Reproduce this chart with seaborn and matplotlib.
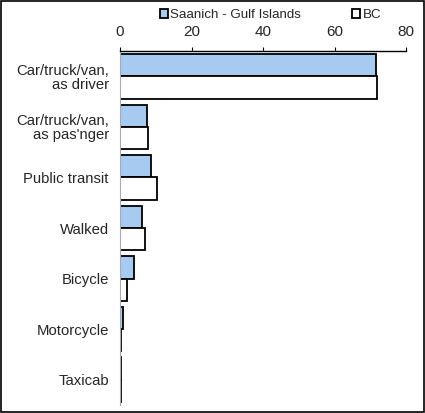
import pandas as pd
import matplotlib.pyplot as plt
import seaborn as sns

modes = ['Car/truck/van,\nas driver', "Car/truck/van,\nas pas'nger", 'Public transit',
         'Walked', 'Bicycle', 'Motorcycle', 'Taxicab']
saanich = [71.5, 7.5, 8.7, 6.2, 4.0, 0.8, 0.2]
bc = [72.0, 7.7, 10.3, 7.0, 2.0, 0.4, 0.2]
regions = ['Saanich - Gulf Islands', 'BC']

df = pd.DataFrame({
    'Mode': modes * 2,
    'Percent': saanich + bc,
    'Region': [regions[0]] * len(modes) + [regions[1]] * len(modes),
})

sns.set_style('white')
plt.rcParams['font.family'] = ['Liberation Sans', 'DejaVu Sans']

fig = plt.figure(figsize=(4.25, 4.13), dpi=100)
ax = fig.add_axes([120 / 425, 1 - 405 / 413, 286 / 425, (405 - 51) / 413])

sns.barplot(data=df, y='Mode', x='Percent', hue='Region', orient='h',
            palette=['#a6caf0', 'white'], saturation=1, edgecolor='black', linewidth=1.3,
            width=0.88, ax=ax)

ax.set_xlim(0, 80)
ax.set_xticks([0, 20, 40, 60, 80])
ax.xaxis.tick_top()
ax.tick_params(axis='x', direction='out', length=3, width=0.8, color='black',
               labelsize=11, pad=5.5)
ax.tick_params(axis='y', length=0, labelsize=10.7, pad=8)
for lbl in ax.get_yticklabels():
    lbl.set_linespacing(1.0)
ax.set_xlabel('')
ax.set_ylabel('')
for side in ['bottom', 'right']:
    ax.spines[side].set_visible(False)
ax.spines['top'].set_color('black')
ax.spines['top'].set_linewidth(1.0)
ax.spines['left'].set_color('#aaaaaa')
ax.spines['left'].set_linewidth(0.8)

ax.legend(loc='center', bbox_to_anchor=(0.636, 1 - 15 / 413), bbox_transform=fig.transFigure,
          ncol=2, frameon=False, fontsize=9.6, handlelength=0.6, handleheight=0.6,
          handletextpad=0.15, columnspacing=3.9, borderaxespad=0)

fig.patches.append(plt.Rectangle((0.002, 0.002), 0.996, 0.996, transform=fig.transFigure,
                                 fill=False, edgecolor='black', linewidth=1.2))

fig.savefig('out.png', dpi=100)
